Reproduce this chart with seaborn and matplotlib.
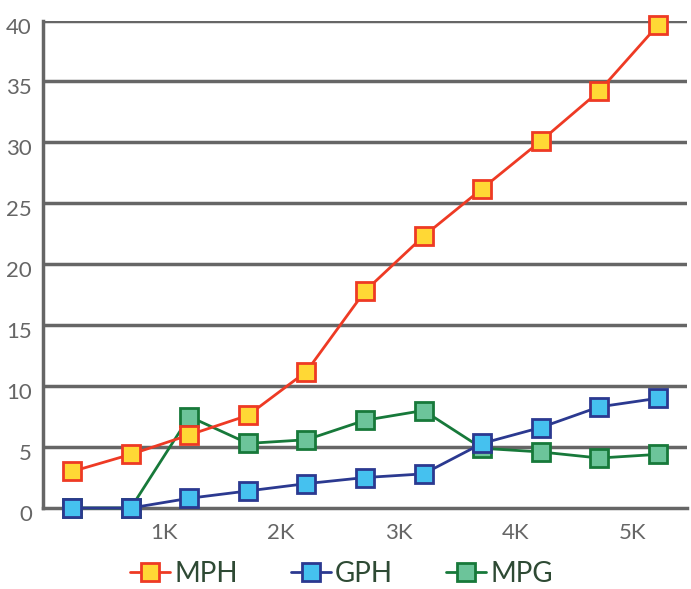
import numpy as np
import pandas as pd
import matplotlib
matplotlib.use("Agg")
import matplotlib.pyplot as plt
import matplotlib.transforms as mtransforms
import seaborn as sns
from matplotlib.lines import Line2D

# data
x_k = [0.25, 0.75, 1.25, 1.75, 2.25, 2.75, 3.25, 3.75, 4.25, 4.75, 5.25]
mph = [3.0, 4.4, 6.0, 7.6, 11.2, 17.8, 22.3, 26.2, 30.1, 34.2, 39.6]
gph = [0.0, 0.0, 0.8, 1.4, 2.0, 2.5, 2.8, 5.3, 6.6, 8.3, 9.0]
mpg = [0.0, 0.0, 7.5, 5.3, 5.6, 7.2, 8.0, 4.9, 4.6, 4.1, 4.4]

series_names = ["MPH", "GPH", "MPG"]
line_colors = ["#ee3a24", "#2b3990", "#17793a"]
face_colors = ["#ffd835", "#45c1ef", "#6cc49a"]
x_tick_vals = [1, 2, 3, 4, 5]
x_tick_labels = ["1K", "2K", "3K", "4K", "5K"]
y_ticks = list(range(0, 41, 5))

df = pd.DataFrame({"x": x_k * 3,
                   "value": mph + gph + mpg,
                   "series": sum([[n] * len(x_k) for n in series_names], [])})

sns.set_style("white")
plt.rcParams['font.family'] = ['Lato', 'DejaVu Sans']

fig = plt.figure(figsize=(6.91, 5.89), dpi=100)
ax = fig.add_axes([43 / 691, 1 - 508 / 589, (687 - 43) / 691, (508 - 20.5) / 589])

grid_color = "#666666"
for y in y_ticks[1:]:
    ax.axhline(y, color=grid_color, lw=2.5, zorder=1)

# MPG underneath, then GPH, then MPH on top
handles = []
for name, lc, fc, z in zip(series_names, line_colors, face_colors, [5, 4, 3]):
    sub = df[df["series"] == name]
    sns.lineplot(data=sub, x="x", y="value", ax=ax, color=lc, lw=2,
                 marker="s", markersize=13, markerfacecolor=fc,
                 markeredgecolor=lc, markeredgewidth=2,
                 legend=False, zorder=z, clip_on=False)
    handles.append(Line2D([0], [0], color=lc, lw=2, marker="s", markersize=13,
                          markerfacecolor=fc, markeredgecolor=lc,
                          markeredgewidth=2, label=name))

ax.set_xlim(0, 5.5)
ax.set_ylim(0, 40)
ax.set_xticks(x_tick_vals)
ax.set_xticklabels(x_tick_labels)
ax.set_yticks(y_ticks)
ax.set_xlabel("")
ax.set_ylabel("")
ax.tick_params(axis="both", length=0, labelsize=16, labelcolor="#666666")
ax.tick_params(axis="x", pad=11)
ax.tick_params(axis="y", pad=8)

# labels in the reference sit a little below their gridlines
shift = mtransforms.ScaledTranslation(0, -5 / 100, fig.dpi_scale_trans)
for lab in ax.get_yticklabels():
    lab.set_transform(lab.get_transform() + shift)
shift_x = mtransforms.ScaledTranslation(4 / 100, 0, fig.dpi_scale_trans)
for lab in ax.get_xticklabels():
    lab.set_transform(lab.get_transform() + shift_x)

for side in ["top", "right"]:
    ax.spines[side].set_visible(False)
ax.spines["left"].set_color(grid_color)
ax.spines["left"].set_linewidth(2.5)
ax.spines["bottom"].set_color(grid_color)
ax.spines["bottom"].set_linewidth(2.5)

fig.legend(handles=handles, loc="center", bbox_to_anchor=(0.494, 1 - 574 / 589),
           ncol=3, frameon=False, fontsize=20, labelcolor="#2e4a34",
           handlelength=1.45, handletextpad=0.15, columnspacing=1.9)

fig.savefig("out.png", dpi=100)
